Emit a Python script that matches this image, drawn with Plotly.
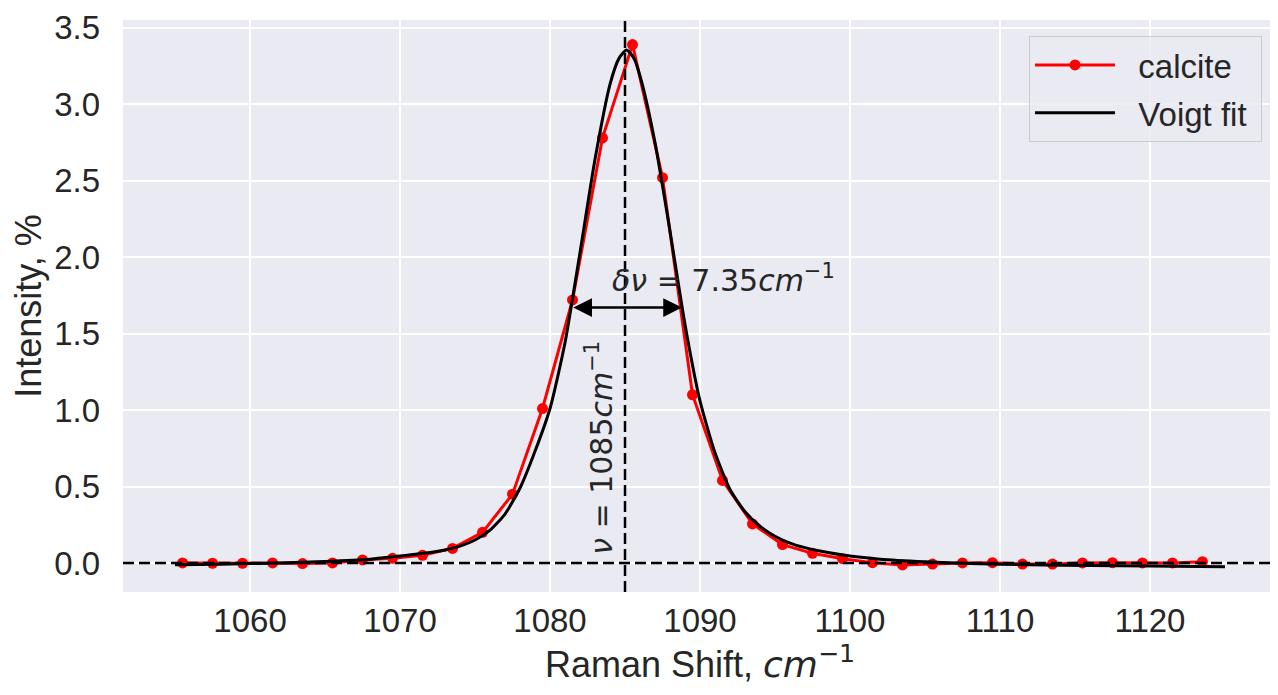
import plotly.graph_objects as go

# measured spectrum (calcite)
shift = [1055.5, 1057.5, 1059.5, 1061.5, 1063.5, 1065.5, 1067.5, 1069.5, 1071.5,
         1073.5, 1075.5, 1077.5, 1079.5, 1081.5, 1083.5, 1085.5, 1087.5, 1089.5,
         1091.5, 1093.5, 1095.5, 1097.5, 1099.5, 1101.5, 1103.5, 1105.5, 1107.5,
         1109.5, 1111.5, 1113.5, 1115.5, 1117.5, 1119.5, 1121.5, 1123.5]
intensity = [0.0, -0.002, -0.002, 0.0, -0.004, 0.0, 0.02, 0.03, 0.05,
             0.095, 0.20, 0.45, 1.01, 1.72, 2.78, 3.39, 2.52, 1.10,
             0.54, 0.255, 0.12, 0.063, 0.028, 0.002, -0.013, -0.007, 0.0,
             0.002, -0.007, -0.007, 0.0, 0.002, 0.0, 0.0, 0.008]

# Voigt fit curve
fit_shift = [1055.0, 1058.0, 1062.0, 1065.0, 1068.0, 1070.0, 1072.0, 1073.0, 1074.0,
             1075.0, 1076.0, 1077.0, 1078.0, 1079.0, 1080.0, 1081.0, 1082.0, 1083.0,
             1084.0, 1084.6, 1085.1, 1085.6, 1086.1, 1087.0, 1088.0, 1089.0, 1090.0,
             1091.0, 1092.0, 1093.0, 1094.0, 1095.0, 1096.0, 1097.0, 1098.0, 1100.0,
             1102.0, 1105.0, 1108.0, 1112.0, 1116.0, 1120.0, 1125.0]
fit_intensity = [-0.012, -0.008, 0.0, 0.010, 0.025, 0.045, 0.068, 0.085, 0.110,
                 0.150, 0.215, 0.320, 0.490, 0.730, 1.010, 1.440, 2.030, 2.640,
                 3.130, 3.300, 3.355, 3.300, 3.150, 2.750, 2.170, 1.560, 1.060,
                 0.720, 0.480, 0.335, 0.240, 0.175, 0.130, 0.100, 0.078, 0.045,
                 0.025, 0.008, -0.004, -0.012, -0.017, -0.020, -0.025]

center = 1085
fwhm_lo, fwhm_hi, half_max = 1081.45, 1088.8, 1.67

txt = "#262626"
sans = "Liberation Sans, Arial"
math_font = dict(family="DejaVu Sans", size=30, color=txt)
gap = "\u00a0\u00a0"  # room between legend handle and label

fig = go.Figure()
fig.add_trace(go.Scatter(
    x=shift, y=intensity, mode="lines+markers", name=gap + "calcite",
    legendgroup="a",
    line=dict(color="red", width=3),
    marker=dict(color="red", size=11),
))
fig.add_trace(go.Scatter(
    x=fit_shift, y=fit_intensity, mode="lines", name=gap + "Voigt fit\u00a0",
    legendgroup="b",
    line=dict(color="black", width=3, shape="spline", smoothing=0.6),
))

# reference lines
fig.add_shape(type="line", xref="paper", yref="y", x0=0, x1=1, y0=0, y1=0,
              line=dict(color="black", width=2.5, dash="11px,5px"))
fig.add_shape(type="line", xref="x", yref="paper", x0=center, x1=center, y0=0, y1=1,
              line=dict(color="black", width=2.5, dash="11px,5px"))

# FWHM arrow
fig.add_annotation(x=fwhm_hi, y=half_max, ax=fwhm_lo, ay=half_max,
                   xref="x", yref="y", axref="x", ayref="y", text="",
                   showarrow=True, arrowhead=2, arrowside="end+start",
                   arrowsize=1.5, arrowwidth=2.5, arrowcolor="black", standoff=0,
                   startstandoff=0)
fig.add_annotation(x=1091.55, y=1.86, xref="x", yref="y", showarrow=False,
                   text="<i>δν</i> = 7.35<i>cm</i><sup>−1</sup>", font=math_font)
fig.add_annotation(x=1083.3, y=0.75, xref="x", yref="y", showarrow=False,
                   textangle=-90,
                   text="<i>ν</i> = 1085<i>cm</i><sup>−1</sup>", font=math_font)

fig.update_layout(
    width=1270, height=687,
    margin=dict(l=115, r=1, t=12, b=103),
    paper_bgcolor="white",
    plot_bgcolor="#EAEAF2",
    font=dict(family=sans, size=33, color=txt),
    showlegend=True,
    legend=dict(
        x=0.987, y=0.972, xanchor="right", yanchor="top",
        bgcolor="rgba(234,234,242,0.8)", bordercolor="#CCCCCC", borderwidth=1,
        font=dict(family=sans, size=33, color=txt),
        itemwidth=80, tracegroupgap=2,
    ),
    xaxis=dict(
        range=[1051.53, 1128.47],
        tickvals=[1060, 1070, 1080, 1090, 1100, 1110, 1120],
        showgrid=True, gridcolor="white", gridwidth=2, zeroline=False,
        ticks="", ticklabelstandoff=6, showline=False,
        title=dict(
            text="Raman Shift, <span style=\"font-family:DejaVu Sans\"><i>cm</i><sup>−1</sup></span>",
            font=dict(family=sans, size=36, color=txt),
            standoff=4,
        ),
    ),
    yaxis=dict(
        range=[-0.19, 3.551],
        tickvals=[0, 0.5, 1, 1.5, 2, 2.5, 3, 3.5],
        tickformat=".1f",
        showgrid=True, gridcolor="white", gridwidth=2, zeroline=False,
        ticks="", ticklabelstandoff=22, showline=False,
        title=dict(text="Intensity, %",
                   font=dict(family=sans, size=36, color=txt),
                   standoff=10),
    ),
)

fig.write_html("out.html")
